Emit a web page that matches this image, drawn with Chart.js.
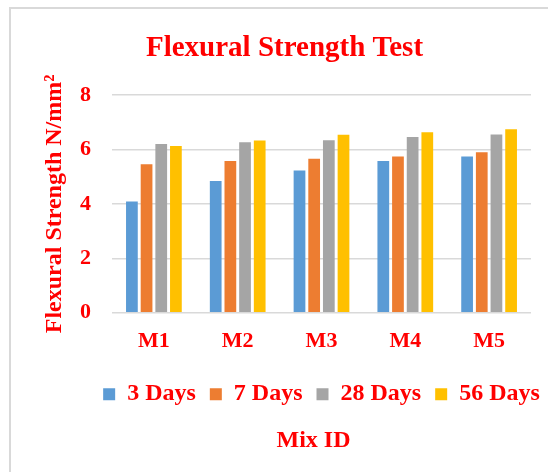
<!DOCTYPE html>
<html>
<head>
<meta charset="utf-8">
<script src="https://cdn.jsdelivr.net/npm/chart.js@4.4.1/dist/chart.umd.min.js"></script>
<style>
  html, body { margin: 0; padding: 0; overflow: hidden; background: #fff; }
  #frame {
    position: absolute; left: 9px; top: 7px; width: 600px; height: 500px;
    border-left: 2px solid #d9d9d9; border-top: 2px solid #d9d9d9;
  }
  #wrap { position: absolute; left: 0; top: 0; width: 550px; height: 465px; }
</style>
</head>
<body>
<div id="frame">
  <div id="wrap"><canvas id="myChart"></canvas></div>
</div>
<script>
const mixIds = ["M1", "M2", "M3", "M4", "M5"];
const days3 = [4.09, 4.84, 5.23, 5.58, 5.74];
const days7 = [5.46, 5.58, 5.66, 5.74, 5.90];
const days28 = [6.20, 6.26, 6.34, 6.46, 6.55];
const days56 = [6.13, 6.33, 6.54, 6.63, 6.74];
const yTicks = [0, 2, 4, 6, 8];

const red = "#ff0000";
const serif = "'Liberation Serif', 'Times New Roman', serif";

// nudge the title / legend / axis caption sideways, like in the original figure
const shiftBoxes = {
  id: "shiftBoxes",
  afterLayout(chart) {
    const move = (box, dx) => {
      if (!box) return;
      box.left += dx;
      box.right += dx;
    };
    move(chart.titleBlock, 5);
    move(chart.legend, 42);
    move(chart.boxes.find((b) => b.options && b.options.text === "Mix ID"), -8);
  },
};

const ctx = document.getElementById("myChart").getContext("2d");

new Chart(ctx, {
  type: "bar",
  data: {
    labels: mixIds,
    datasets: [
      { label: "3 Days", data: days3, backgroundColor: "#5b9bd5" },
      { label: "7 Days", data: days7, backgroundColor: "#ed7d31" },
      { label: "28 Days", data: days28, backgroundColor: "#a5a5a5" },
      { label: "56 Days", data: days56, backgroundColor: "#ffc000" },
    ],
  },
  plugins: [shiftBoxes],
  options: {
    responsive: true,
    maintainAspectRatio: false,
    animation: false,
    datasets: {
      bar: { categoryPercentage: 0.7, barPercentage: 0.8 },
    },
    layout: {
      padding: { top: 0, bottom: 0, left: 17, right: 30 },
    },
    plugins: {
      tooltip: { enabled: false },
      title: {
        display: true,
        text: "Flexural Strength Test",
        color: red,
        font: { size: 29, family: serif, weight: "bold" },
        padding: { top: 22.4, bottom: 28.8 },
      },
      subtitle: {
        display: true,
        position: "bottom",
        fullSize: false,
        text: "Mix ID",
        color: red,
        font: { size: 24, family: serif, weight: "bold" },
        padding: { top: 10.4, bottom: 18.6 },
      },
      legend: {
        display: true,
        position: "bottom",
        labels: {
          color: red,
          boxWidth: 12,
          boxHeight: 12,
          padding: 14,
          font: { size: 24, family: serif, weight: "bold" },
        },
      },
    },
    scales: {
      x: {
        afterFit: (axis) => {
          axis.height = 55.4;
        },
        grid: { display: false },
        border: { display: false },
        ticks: {
          color: red,
          padding: 7,
          font: { size: 22, family: serif, weight: "bold" },
        },
      },
      y: {
        min: 0,
        max: 8,
        afterBuildTicks: (axis) => {
          axis.ticks = yTicks.map((v) => ({ value: v }));
        },
        afterFit: (axis) => {
          axis.width = 84;
        },
        grid: { color: "#d9d9d9", lineWidth: 1.5, drawTicks: false },
        border: { display: false },
        ticks: {
          color: red,
          padding: 21,
          font: { size: 22, family: serif, weight: "bold" },
        },
        title: {
          display: true,
          text: "Flexural Strength N/mm²",
          color: red,
          padding: { top: 12.6, bottom: 0 },
          font: { size: 24, family: serif, weight: "bold" },
        },
      },
    },
  },
});
</script>
</body>
</html>
